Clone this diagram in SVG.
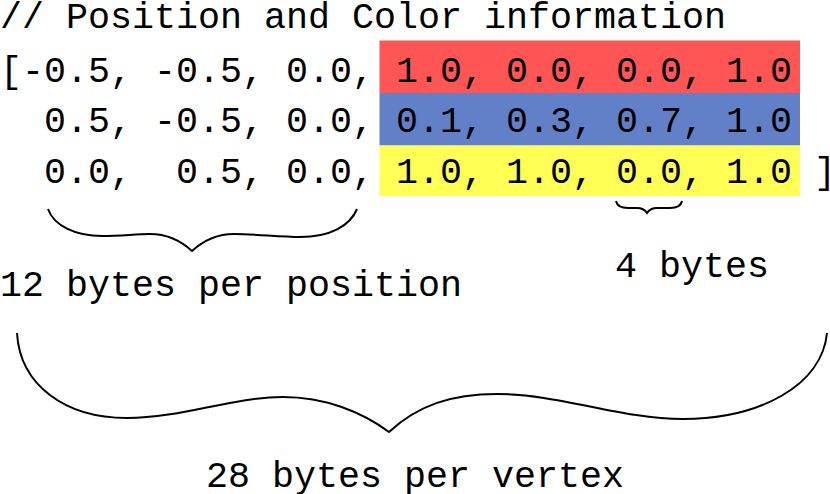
<svg xmlns="http://www.w3.org/2000/svg" width="830" height="494" viewBox="0 0 830 494">
  <style>
    text { font-family: "Liberation Mono", "DejaVu Sans Mono", monospace; font-size: 36.67px; fill: #000000; white-space: pre; }
    .brace { fill: none; stroke: #000000; stroke-width: 2; stroke-linejoin: miter; }
  </style>
  <rect width="830" height="494" fill="#ffffff"/>
  <g id="comment">
    <text x="0" y="28">// Position and Color information</text>
  </g>
  <g id="positions">
    <text x="0" y="82" xml:space="preserve">[-0.5, -0.5, 0.0,</text>
    <text x="0" y="132" xml:space="preserve">  0.5, -0.5, 0.0,</text>
    <text x="0" y="183" xml:space="preserve">  0.0,  0.5, 0.0,</text>
    <text x="814" y="183">]</text>
  </g>
  <g id="color-red">
    <rect x="379.5" y="40.5" width="420.5" height="52.5" fill="#ff5555"/>
    <text x="396" y="82">1.0, 0.0, 0.0, 1.0</text>
  </g>
  <g id="color-blue">
    <rect x="379.5" y="93" width="420.5" height="52.5" fill="#6280c7"/>
    <text x="396" y="132">0.1, 0.3, 0.7, 1.0</text>
  </g>
  <g id="color-yellow">
    <rect x="379.5" y="145.5" width="420.5" height="50.5" fill="#ffff55"/>
    <text x="396" y="183">1.0, 1.0, 0.0, 1.0</text>
  </g>
  <g id="connectors">
    <path id="brace-position" class="brace" d="M48,209 C54,226 76,236 102,236 C122,236 135,234 150,234 C166,234 180,240 192,251 C204,240 218,234 234,234 C255,234 280,237 300,237 C330,237 350,226 357,209"/>
    <path id="brace-float" class="brace" d="M616,201 C617,206 622,208 628,208 L637,208 C642,208 645,210 647,213 C649,210 652,208 657,208 L670,208 C676,208 681,206 682,201"/>
    <path id="brace-vertex" class="brace" d="M17,333 C20,385 65,418 127,418 C182,418 232,397 283,397 C325,397 362,412 389,432 C418,405 452,394 497,394 C560,394 620,419 683,419 C760,419 822,385 827,333"/>
  </g>
  <g id="label-position">
    <text x="0" y="296">12 bytes per position</text>
  </g>
  <g id="label-float">
    <text x="615" y="277">4 bytes</text>
  </g>
  <g id="label-vertex">
    <text x="206" y="486.5">28 bytes per vertex</text>
  </g>
</svg>
